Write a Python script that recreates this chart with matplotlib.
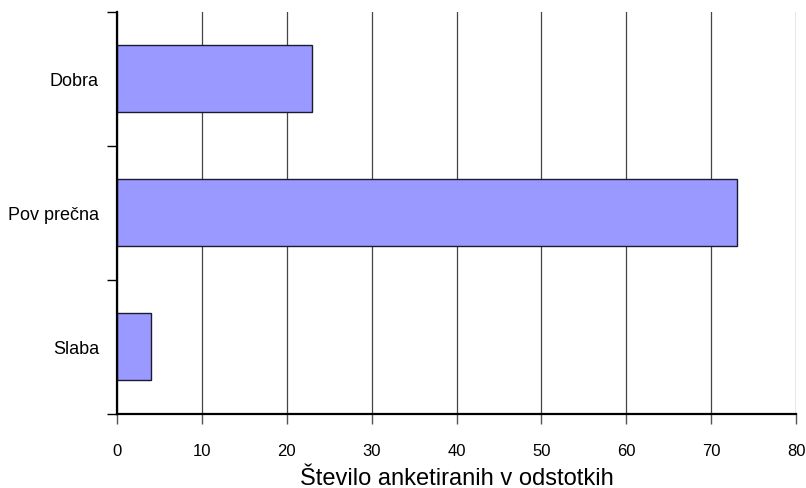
import matplotlib
matplotlib.use("Agg")
import matplotlib.pyplot as plt
from matplotlib.ticker import FixedLocator

categories = ["Dobra", "Pov prečna", "Slaba"]
values = [23.0, 73.0, 4.0]
x_ticks = [0, 10, 20, 30, 40, 50, 60, 70, 80]
x_label = "Število anketiranih v odstotkih"

plt.rcParams['font.family'] = ['Liberation Sans', 'DejaVu Sans']

fig = plt.figure(figsize=(8.06, 4.89), dpi=100)
ax = fig.add_axes([117/806, 1-414.5/489, (796-117)/806, (414.5-12.7)/489])

ypos = list(range(len(categories)))
ax.barh(ypos, values, height=0.5, color="#9999FF", edgecolor="#1a1a33", linewidth=1.0, zorder=3)
ax.set_ylim(len(categories)-0.5, -0.5)
ax.set_xlim(x_ticks[0], x_ticks[-1])

ax.set_xticks(x_ticks)
ax.set_xticklabels([str(t) for t in x_ticks], fontsize=12)
ax.set_yticks(ypos)
ax.set_yticklabels(categories, fontsize=13)
ax.yaxis.set_minor_locator(FixedLocator([i - 0.5 for i in range(len(categories)+1)]))

ax.tick_params(axis='y', which='major', length=0, pad=13)
ax.tick_params(axis='y', which='minor', length=7, width=1, color='black')
ax.tick_params(axis='x', which='major', length=7, width=1, color='#555555', pad=14)

ax.grid(axis='x', color='#444444', linewidth=0.9, zorder=0)
ax.set_axisbelow(True)

for s in ['top', 'right']:
    ax.spines[s].set_visible(False)
for s in ['left', 'bottom']:
    ax.spines[s].set_linewidth(1.6)
    ax.spines[s].set_color('black')
    ax.spines[s].set_zorder(4)

ax.set_xlabel(x_label, fontsize=17, labelpad=7)

fig.savefig("out.png", dpi=100, facecolor="white")
